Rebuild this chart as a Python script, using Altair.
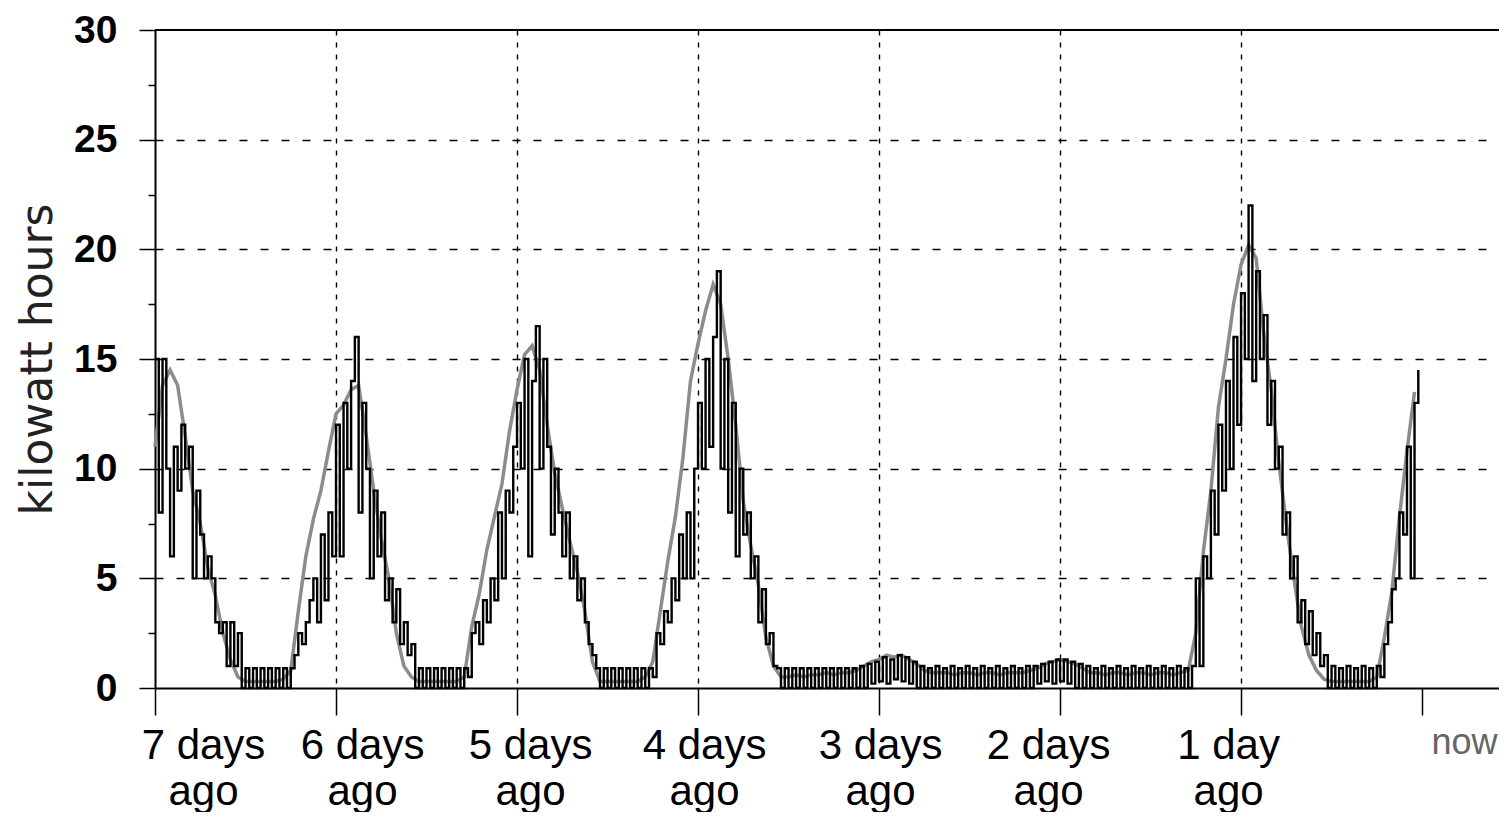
import json
import altair as alt
import pandas as pd

W, H = 1344, 658

# ---- actual energy (black, half-hourly steps), one list per day ----
black_day1 = [15, 8, 15, 10, 6, 11, 9, 12, 10, 11, 5, 9, 7, 5, 6, 5, 3, 2.5, 3, 1, 3, 1, 2.5, 0,
              0.9, 0, 0.9, 0, 0.9, 0, 0.9, 0, 0.9, 0, 0.9, 0, 0.9, 1.5, 2.5, 2, 3, 4, 5, 3, 7, 4, 8, 6]
black_day2 = [12, 6, 13, 10, 14, 16, 8, 13, 10, 5, 9, 6, 8, 4, 5, 3, 4.5, 2, 3, 1.5, 2, 0, 0.9, 0,
              0.9, 0, 0.9, 0, 0.9, 0, 0.9, 0, 0.9, 0, 0.9, 0.5, 2.5, 3, 2, 4, 3, 5, 4, 8, 5, 9, 8, 11]
black_day3 = [13, 10, 15, 6, 14, 16.5, 10, 15, 11, 7, 10, 8, 6, 8, 5, 6, 4, 5, 3, 2, 1.5, 0.9, 0, 0.9,
              0, 0.9, 0, 0.9, 0, 0.9, 0, 0.9, 0, 0.9, 0, 0.9, 0.5, 2.5, 2, 3.5, 3, 5, 4, 7, 5, 8, 5, 10]
black_day4 = [13, 10, 15, 11, 16, 19, 10, 15, 8, 13, 6, 10, 7, 8, 5, 6, 3, 4.5, 2, 2.5, 1, 0.9, 0, 0.9,
              0, 0.9, 0, 0.9, 0, 0.9, 0, 0.9, 0, 0.9, 0, 0.9, 0, 0.9, 0, 0.9, 0, 0.9, 0, 1, 0, 1.1, 0.2, 1.2]
black_day5 = [0.3, 1.4, 0.2, 1.3, 0.4, 1.5, 0.3, 1.4, 0.2, 1.2, 0, 1, 0, 0.9, 0, 1, 0, 0.9, 0, 1, 0, 0.9, 0, 1,
              0, 0.9, 0, 1, 0, 0.9, 0, 1, 0, 0.9, 0, 1, 0, 0.9, 0, 1, 0, 1, 0.2, 1.1, 0.3, 1.2, 0.2, 1.3]
black_day6 = [0.3, 1.3, 0.2, 1.2, 0, 1.1, 0, 1, 0, 0.9, 0, 1, 0, 0.9, 0, 1, 0, 0.9, 0, 1, 0, 0.9, 0, 1,
              0, 0.9, 0, 1, 0, 0.9, 0, 1, 0, 0.9, 0, 1, 5, 1, 6, 5, 9, 7, 12, 9, 14, 10, 16, 12]
black_day7 = [18, 15, 22, 14, 19, 15, 17, 12, 14, 10, 11, 7, 8, 5, 6, 3, 4, 2, 3.5, 1.5, 2.5, 1, 1.5, 0,
              1, 0, 0.9, 0, 1, 0, 0.9, 0, 1, 0, 0.9, 0, 1, 0.5, 2, 3, 4.5, 5, 8, 7, 11, 5, 13, 14.5]

# ---- reference / average energy (grey, hourly), one list per day ----
gray_day1 = [11, 13.8, 14.5, 13.8, 11.5, 9.0, 7.5, 5.5, 4.2, 2.5, 1.3, 0.5,
             0.3, 0.3, 0.3, 0.3, 0.3, 0.4, 0.8, 3.5, 6.0, 7.7, 9.0, 10.8]
gray_day2 = [12.5, 12.9, 13.6, 13.8, 11.5, 9.0, 6.8, 5.0, 2.5, 1.0, 0.5, 0.3,
             0.3, 0.3, 0.3, 0.3, 0.3, 0.5, 2.8, 4.3, 6.3, 7.8, 9.3, 11.7]
gray_day3 = [13.6, 15.2, 15.6, 14.5, 12.0, 9.8, 8.2, 6.7, 5.3, 3.5, 1.2, 0.3,
             0.3, 0.3, 0.3, 0.3, 0.3, 0.5, 1.2, 3.5, 5.8, 7.8, 10.5, 14.0]
gray_day4 = [15.7, 17.2, 18.4, 17.5, 15, 12, 8.5, 6.5, 4.7, 2.3, 1.0, 0.5,
             0.5, 0.6, 0.5, 0.6, 0.6, 0.7, 0.6, 0.7, 0.7, 0.8, 1.0, 1.2]
gray_day5 = [1.3, 1.5, 1.4, 1.5, 1.3, 1.1, 0.8, 0.7, 0.7, 0.7, 0.6, 0.7,
             0.7, 0.6, 0.7, 0.7, 0.6, 0.7, 0.7, 0.7, 0.8, 0.9, 1.1, 1.2]
gray_day6 = [1.3, 1.2, 1.1, 0.9, 0.7, 0.7, 0.6, 0.7, 0.7, 0.6, 0.7, 0.7,
             0.6, 0.7, 0.7, 0.6, 0.7, 0.8, 2.5, 6.2, 9.0, 12.8, 15.0, 17.5]
gray_day7 = [19.3, 20.2, 19.6, 16.2, 13.6, 10.3, 7.5, 5.0, 2.8, 1.5, 0.8, 0.4,
             0.3, 0.3, 0.3, 0.3, 0.3, 0.3, 0.5, 2.3, 4.4, 7.8, 10.8, 13.5]

# ---- axis ticks / labels ----
x_tick_values = [-7, -6, -5, -4, -3, -2, -1, 0]
x_label_line1 = ["7 days", "6 days", "5 days", "4 days", "3 days", "2 days", "1 day", "now"]
x_label_line2 = ["ago", "ago", "ago", "ago", "ago", "ago", "ago", ""]
x_label_shift = [48, 26, 13, 6, 1, -12, -13, 42]
y_tick_values = [0, 2.5, 5, 7.5, 10, 12.5, 15, 17.5, 20, 22.5, 25, 27.5, 30]

black_vals = black_day1 + black_day2 + black_day3 + black_day4 + black_day5 + black_day6 + black_day7
gray_vals = gray_day1 + gray_day2 + gray_day3 + gray_day4 + gray_day5 + gray_day6 + gray_day7

black_df = pd.DataFrame({"days": [i / 48 - 7 for i in range(len(black_vals))], "kwh": black_vals})
gray_df = pd.DataFrame({"days": [i / 24 - 7 for i in range(len(gray_vals))], "kwh": gray_vals})

label_expr = ""
for v, l1, l2 in zip(x_tick_values, x_label_line1, x_label_line2):
    arr = [l1, l2] if l2 else [l1]
    label_expr += f"datum.value == {v} ? {json.dumps(arr)} : "
label_expr += "''"

FONT = "Liberation Sans"

x_axis = alt.Axis(
    values=x_tick_values,
    labelExpr=label_expr,
    title=None,
    grid=True,
    gridColor="black",
    gridWidth=1.4,
    gridDash=[5, 7],
    gridOpacity={"condition": {"test": "datum.value == -7 || datum.value == 0", "value": 0}, "value": 1},
    domainColor="black",
    domainWidth=2,
    tickColor="black",
    tickWidth=1.5,
    tickSize=27,
    labelFont=FONT,
    labelFontSize={"condition": {"test": "datum.value == 0", "value": 36}, "value": 42},
    labelColor={"condition": {"test": "datum.value == 0", "value": "#666666"}, "value": "black"},
    labelBaseline="top",
    labelAlign="center",
    labelLineHeight=46,
    labelPadding=10,
    labelOffset={"condition": [{"test": f"datum.value == {v}", "value": s}
                               for v, s in zip(x_tick_values, x_label_shift)], "value": 0},
    labelOverlap=False,
    labelFlush=False,
)

y_axis = alt.Axis(
    values=y_tick_values,
    labelExpr="datum.value % 5 == 0 ? datum.value : ''",
    title="kilowatt hours",
    titleFont="DejaVu Sans",
    titleFontSize=44,
    titleFontWeight="normal",
    titleColor="#222222",
    titlePadding=13,
    grid=True,
    gridColor="black",
    gridWidth=1.4,
    gridDash=[8, 13],
    gridOpacity={"condition": {"test": "datum.value % 5 != 0 || datum.value == 0 || datum.value == 30",
                               "value": 0}, "value": 1},
    domainColor="black",
    domainWidth=2,
    tickColor="black",
    tickWidth=1.5,
    tickSize={"condition": {"test": "datum.value % 5 != 0", "value": 7}, "value": 16},
    labelFont=FONT,
    labelFontSize=39,
    labelFontWeight="bold",
    labelColor="black",
    labelPadding=22,
    labelOverlap=False,
    labelFlush=False,
)

x_enc = alt.X("days:Q", scale=alt.Scale(domain=[-7, 0.425], nice=False, zero=False), axis=x_axis)
y_enc = alt.Y("kwh:Q", scale=alt.Scale(domain=[0, 30], nice=False), axis=y_axis)

gray_line = alt.Chart(gray_df).mark_line(color="#8c8c8c", strokeWidth=3.5).encode(x=x_enc, y=y_enc)
black_line = alt.Chart(black_df).mark_line(
    color="black", strokeWidth=2.4, interpolate="step-after"
).encode(x=x_enc, y=y_enc)
top_rule = alt.Chart(gray_df).mark_rule(color="black", strokeWidth=2).encode(
    x=alt.value(0), x2=alt.value(W), y=alt.value(0)
)

chart = alt.layer(gray_line, black_line, top_rule).properties(
    width=W,
    height=H,
    autosize="none",
    padding={"left": 147, "top": 22, "right": 0, "bottom": 124},
    background="white",
).configure_view(stroke=None)

chart.save("out.html", embed_options={"renderer": "svg", "actions": False})
